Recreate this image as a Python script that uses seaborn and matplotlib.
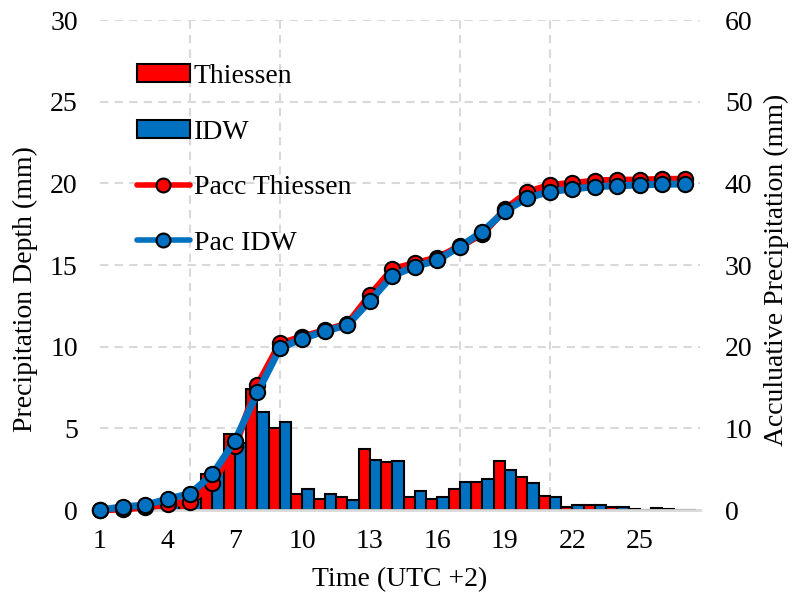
import matplotlib
matplotlib.use("Agg")
import matplotlib.pyplot as plt
import pandas as pd
import seaborn as sns
from matplotlib.patches import Patch
from matplotlib.lines import Line2D

# Hourly precipitation depth (mm) and accumulated precipitation (mm)
hours = list(range(1, 28))
thiessen = [0.0, 0.1, 0.15, 0.3, 0.4, 2.2, 4.65, 7.4, 5.0, 1.0, 0.67, 0.8, 3.74, 2.96,
            0.82, 0.67, 1.31, 1.73, 3.0, 2.02, 0.88, 0.16, 0.33, 0.2, 0.05, 0.1, 0.0]
idw = [0.0, 0.2, 0.25, 0.5, 0.7, 2.3, 4.1, 6.0, 5.4, 1.27, 0.96, 0.63, 3.06, 3.0,
       1.15, 0.82, 1.73, 1.9, 2.43, 1.67, 0.82, 0.3, 0.3, 0.2, 0.03, 0.06, 0.0]
pacc_thiessen = [0.0, 0.12, 0.33, 0.73, 1.0, 3.27, 7.84, 15.3, 20.4, 21.2, 22.0, 22.8,
                 26.3, 29.5, 30.2, 30.9, 32.3, 33.8, 36.8, 38.9, 39.8, 40.0, 40.3,
                 40.4, 40.4, 40.5, 40.5]
pac_idw = [0.0, 0.4, 0.6, 1.35, 2.0, 4.37, 8.5, 14.4, 19.8, 21.0, 21.9, 22.65, 25.6,
           28.7, 29.8, 30.6, 32.25, 34.1, 36.6, 38.2, 39.0, 39.3, 39.6, 39.7, 39.8,
           39.9, 39.9]
tick_hours = [1, 4, 7, 10, 13, 16, 19, 22, 25]

RED = "#FF0000"
BLUE = "#0070C0"
GRID = "#D9D9D9"

sns.set_theme(style="white")
plt.rcParams["font.family"] = ["Liberation Serif", "DejaVu Serif"]
plt.rcParams["text.color"] = "black"
FS = 20

bars = pd.DataFrame({
    "hour": hours * 2,
    "method": ["Thiessen"] * len(hours) + ["IDW"] * len(hours),
    "depth": thiessen + idw,
})
acc = pd.DataFrame({
    "hour": hours * 2,
    "series": ["Pacc Thiessen"] * len(hours) + ["Pac IDW"] * len(hours),
    "acc": pacc_thiessen + pac_idw,
})

fig = plt.figure(figsize=(7.95, 6.03), dpi=100)
ax = fig.add_subplot(111)
fig.subplots_adjust(left=0.1258, right=0.8805, bottom=0.1542, top=0.9668)

sns.barplot(data=bars, x="hour", y="depth", hue="method",
            hue_order=["Thiessen", "IDW"], palette=[RED, BLUE],
            native_scale=True, width=1.0, gap=0, errorbar=None,
            edgecolor="black", linewidth=1.5, saturation=1, legend=False, ax=ax)

ax2 = ax.twinx()
sns.lineplot(data=acc, x="hour", y="acc", hue="series",
             hue_order=["Pacc Thiessen", "Pac IDW"], palette=[RED, BLUE],
             marker="o", markersize=11, markeredgecolor="black",
             markeredgewidth=1.5, linewidth=5, legend=False, ax=ax2)
for ln in ax2.get_lines():
    ln.set_clip_on(False)

# Axes limits and ticks
ax.set_xlim(1, 27.67)
ax.set_ylim(0, 30)
ax2.set_ylim(0, 60)
ax.set_xticks(tick_hours)
ax.set_xticklabels([str(h) for h in tick_hours])
ax.set_xticks(list(range(1, 28, 4)), minor=True)
ax.set_yticks(range(0, 31, 5))
ax2.set_yticks(range(0, 61, 10))

# Dashed gridlines behind the bars
ax.set_axisbelow(True)
ax.grid(False)
ax2.grid(False)
ax.grid(True, which="major", axis="y", color=GRID, linestyle=(0, (4, 3)), linewidth=1.5)
ax.grid(True, which="minor", axis="x", color=GRID, linestyle=(0, (4, 3)), linewidth=1.5)

for sp in ["left", "right", "top"]:
    ax.spines[sp].set_visible(False)
ax.spines["bottom"].set_color(GRID)
ax.spines["bottom"].set_linewidth(2)
for sp in ax2.spines.values():
    sp.set_visible(False)

ax.tick_params(axis="x", which="both", length=0, pad=14, labelsize=FS, labelcolor="black")
ax.tick_params(axis="y", length=0, pad=16, labelsize=FS, labelcolor="black")
ax2.tick_params(axis="y", length=0, pad=18, labelsize=FS, labelcolor="black")

ax.set_xlabel("Time (UTC +2)", fontsize=FS, color="black")
ax.set_ylabel("Precipitation Depth (mm)", fontsize=FS, color="black")
ax2.set_ylabel("Acculuative Precipitation (mm)", fontsize=FS, color="black", rotation=90)
ax.xaxis.set_label_coords(0.5, -0.116)
ax.yaxis.set_label_coords(-0.104, 0.45)
ax2.yaxis.set_label_coords(1.107, 0.49)

handles = [
    Patch(facecolor=RED, edgecolor="black", linewidth=1.5, label="Thiessen"),
    Patch(facecolor=BLUE, edgecolor="black", linewidth=1.5, label="IDW"),
    Line2D([], [], color=RED, linewidth=4, marker="o", markersize=10,
           markerfacecolor=RED, markeredgecolor="black", markeredgewidth=1.5,
           label="Pacc Thiessen"),
    Line2D([], [], color=BLUE, linewidth=4, marker="o", markersize=10,
           markerfacecolor=BLUE, markeredgecolor="black", markeredgewidth=1.5,
           label="Pac IDW"),
]
ax2.legend(handles=handles, loc="upper left",
           bbox_to_anchor=(137 / 795, 1 - 64 / 603), bbox_transform=fig.transFigure,
           frameon=False, fontsize=FS, handlelength=1.9, handleheight=0.62,
           handletextpad=0.15, labelspacing=1.1, borderpad=0, borderaxespad=0)

fig.savefig("out.png", dpi=100)
